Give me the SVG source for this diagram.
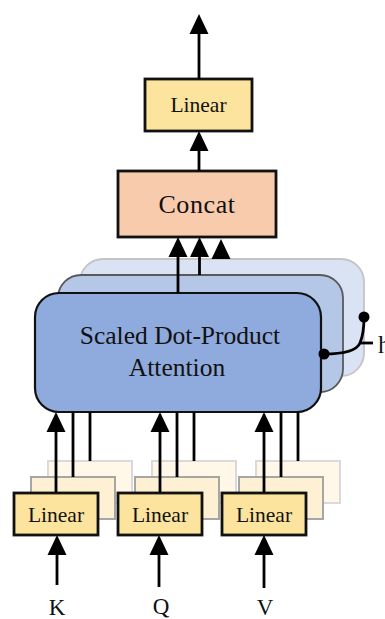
<svg xmlns="http://www.w3.org/2000/svg" width="385" height="619" viewBox="0 0 385 619">
  <defs>
    <marker id="ah" markerWidth="20" markerHeight="20" refX="12" refY="10" orient="auto" markerUnits="userSpaceOnUse">
      <path d="M0,0.5 L20,10 L0,19.5 Z" fill="#000"/>
    </marker>
    <style>
      text { font-family: "Liberation Serif", "Times New Roman", serif; fill: #111; text-anchor: middle; }
      .lin { fill: #FCE49E; stroke: #111; stroke-width: 2.8; }
      .lin2 { fill: #FEF0D2; stroke: #A6A6A6; stroke-width: 2; }
      .lin3 { fill: #FFF8E8; stroke: #DADADA; stroke-width: 2; }
      .cat { fill: #F8CBAD; stroke: #111; stroke-width: 2.8; }
      .att1 { fill: #8FAADC; stroke: #111; stroke-width: 2.2; }
      .att2 { fill: #B4C7E7; stroke: #595959; stroke-width: 1.8; }
      .att3 { fill: #DAE3F3; stroke: #C4C4C4; stroke-width: 1.8; }
      .arr { stroke: #000; stroke-width: 2.8; fill: none; marker-end: url(#ah); }
      .ln { stroke: #000; stroke-width: 2.8; fill: none; }
      .t21 { font-size: 21.5px; }
    </style>
  </defs>

  <!-- attention heads, stacked back to front -->
  <g id="attention-head-3">
    <rect class="att3" x="80" y="259" width="284" height="117" rx="23"/>
  </g>
  <g id="attention-head-2">
    <rect class="att2" x="58" y="275" width="285" height="117" rx="23"/>
  </g>
  <g id="attention">
    <rect class="att1" x="35" y="293" width="286" height="119" rx="24"/>
    <text x="180" y="344" font-size="25.5">Scaled Dot-Product</text>
    <text x="177" y="376" font-size="25.5">Attention</text>
  </g>

  <!-- stacked linear projections behind the front ones -->
  <g id="linear-k-back">
    <rect class="lin3" x="48" y="461" width="84" height="42"/>
    <rect class="lin2" x="31" y="477" width="84" height="42"/>
  </g>
  <g id="linear-q-back">
    <rect class="lin3" x="152" y="461" width="84" height="42"/>
    <rect class="lin2" x="135" y="477" width="84" height="42"/>
  </g>
  <g id="linear-v-back">
    <rect class="lin3" x="256" y="461" width="84" height="42"/>
    <rect class="lin2" x="239" y="477" width="84" height="42"/>
  </g>

  <g id="linear-k">
    <rect class="lin" x="14" y="493" width="84" height="42"/>
    <text class="t21" x="56" y="522">Linear</text>
  </g>
  <g id="linear-q">
    <rect class="lin" x="118" y="493" width="84" height="42"/>
    <text class="t21" x="160" y="522">Linear</text>
  </g>
  <g id="linear-v">
    <rect class="lin" x="222" y="493" width="84" height="42"/>
    <text class="t21" x="264" y="522">Linear</text>
  </g>

  <g id="concat">
    <rect class="cat" x="118" y="171" width="158" height="66"/>
    <text x="197" y="213" font-size="26" letter-spacing="0.6">Concat</text>
  </g>

  <g id="linear-out">
    <rect class="lin" x="145" y="79" width="107" height="52"/>
    <text class="t21" x="198.5" y="112">Linear</text>
  </g>

  <g id="inputs">
    <text x="57" y="615" font-size="23">K</text>
    <text x="161" y="614" font-size="23">Q</text>
    <text x="265" y="615" font-size="23">V</text>
  </g>

  <g id="head-label">
    <text x="378" y="353" font-size="25" style="text-anchor:start">h</text>
  </g>

  <g id="connectors">
    <!-- output -->
    <line class="arr" x1="199" y1="79" x2="199" y2="22"/>
    <line class="arr" x1="199" y1="171" x2="199" y2="139"/>
    <!-- heads into concat -->
    <line class="arr" x1="178" y1="293" x2="178" y2="245"/>
    <line class="arr" x1="199.5" y1="275" x2="199.5" y2="245"/>
    <line class="arr" x1="221" y1="259" x2="221" y2="247"/>
    <!-- projections into attention -->
    <line class="arr" x1="56" y1="493" x2="56" y2="420"/>
    <line class="ln" x1="73" y1="477" x2="73" y2="412"/>
    <line class="ln" x1="90" y1="461" x2="90" y2="412"/>
    <line class="arr" x1="160" y1="493" x2="160" y2="420"/>
    <line class="ln" x1="177" y1="477" x2="177" y2="412"/>
    <line class="ln" x1="194" y1="461" x2="194" y2="412"/>
    <line class="arr" x1="264" y1="493" x2="264" y2="420"/>
    <line class="ln" x1="281" y1="477" x2="281" y2="412"/>
    <line class="ln" x1="298" y1="461" x2="298" y2="412"/>
    <!-- inputs -->
    <line class="arr" x1="57" y1="585" x2="57" y2="543"/>
    <line class="arr" x1="159" y1="587" x2="159" y2="543"/>
    <line class="arr" x1="264" y1="588" x2="264" y2="543"/>
    <!-- brace over the heads -->
    <path class="ln" stroke-width="2.2" d="M324,354 C345,354 357,350 360,343 C363,336 364,326 364,317"/>
    <line class="ln" stroke-width="2.2" x1="360" y1="343" x2="373" y2="343"/>
    <circle cx="324" cy="354" r="5.5" fill="#000"/>
    <circle cx="364" cy="317" r="5.5" fill="#000"/>
  </g>
</svg>
